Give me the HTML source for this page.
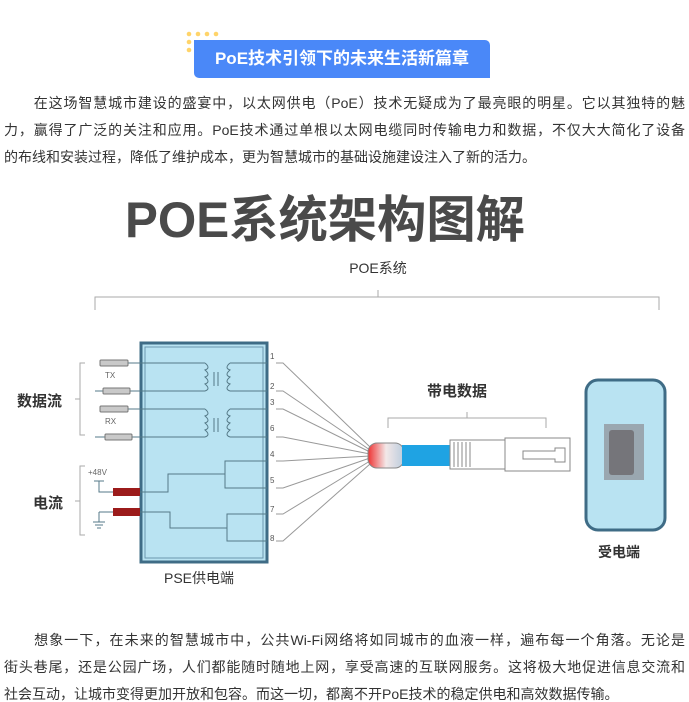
<!DOCTYPE html>
<html><head><meta charset="utf-8"><style>
html,body{margin:0;padding:0;background:#fff;width:689px;height:702px;overflow:hidden;position:relative}
.t{position:absolute;left:4px;width:681px;font:14px "Liberation Sans","Noto Sans CJK SC",sans-serif;color:#333;height:20px;line-height:20px;white-space:nowrap}
.j{text-align:justify;text-align-last:justify}
</style></head><body>
<div style="position:absolute;left:186px;top:31px;width:32px;height:20px">
<svg width="34" height="22"><g fill="#ffd46a"><circle cx="3" cy="3" r="2.3"/><circle cx="12" cy="3" r="2.3"/><circle cx="21" cy="3" r="2.3"/><circle cx="30" cy="3" r="2.3"/><circle cx="3" cy="11" r="2.3"/><circle cx="3" cy="19" r="2.3"/></g></svg></div>
<div style="position:absolute;left:194px;top:40px;width:296px;height:38px;background:#4a88f8;border-radius:0 5px 0 5px;color:#fff;font:bold 17px 'Liberation Sans','Noto Sans CJK SC',sans-serif;line-height:38px;text-align:center">PoE技术引领下的未来生活新篇章</div>

<div class="t j" style="top:93px">　　在这场智慧城市建设的盛宴中，以太网供电（PoE）技术无疑成为了最亮眼的明星。它以其独特的魅</div>
<div class="t j" style="top:120px">力，赢得了广泛的关注和应用。PoE技术通过单根以太网电缆同时传输电力和数据，不仅大大简化了设备</div>
<div class="t" style="top:147px">的布线和安装过程，降低了维护成本，更为智慧城市的基础设施建设注入了新的活力。</div>

<svg style="position:absolute;left:0;top:180px" width="689" height="420" viewBox="0 180 689 420" font-family="Liberation Sans,Noto Sans CJK SC,sans-serif">
<text x="125" y="237" font-size="50" font-weight="bold" fill="#4a4a4a" textLength="400" lengthAdjust="spacingAndGlyphs">POE系统架构图解</text>
<text x="378" y="273" font-size="14" fill="#333" text-anchor="middle">POE系统</text>
<path d="M95 310 V297 H659 V310 M378 297 V290" fill="none" stroke="#aaa" stroke-width="1"/>
<rect x="141" y="343" width="126" height="219" fill="#b9e3f2" stroke="#3f6c86" stroke-width="3"/>
<rect x="145" y="347" width="118" height="211" fill="none" stroke="#6a97ae" stroke-width="1"/>
<g stroke="#557a88" stroke-width="1" fill="none">
<path d="M128 363 H205 M230 363 H267"/>
<path d="M95 391 H103 M130 391 H205 M230 391 H267"/>
<path d="M128 409 H205 M230 409 H267"/>
<path d="M95 437 H105 M132 437 H205 M230 437 H267"/>
<path d="M205 363 q6 5 0 7 q6 5 0 7 q6 5 0 7 q6 5 0 7 V391"/>
<path d="M230 363 q-6 5 0 7 q-6 5 0 7 q-6 5 0 7 q-6 5 0 7 V391"/>
<path d="M205 409 q6 5 0 7 q6 5 0 7 q6 5 0 7 q6 5 0 7 V437"/>
<path d="M230 409 q-6 5 0 7 q-6 5 0 7 q-6 5 0 7 q-6 5 0 7 V437"/>
<path d="M214 372 V386 M218 372 V386 M214 418 V432 M218 418 V432"/>
<path d="M140 492 H168 V474 H225 V461 H267 M225 474 V488 H267"/>
<path d="M140 512 H170 V528 H227 V514 H267 M227 528 V541 H267"/>
<path d="M99 481 V492 H113 M94 481 H104 M99 512 V522 M99 512 H113 M93 522 H105 M95 525 H103 M97 528 H101"/>
</g>
<g fill="#c9c9c9" stroke="#777" stroke-width="1">
<rect x="100" y="360" width="28" height="6" rx="1"/><rect x="103" y="388" width="27" height="6" rx="1"/>
<rect x="100" y="406" width="28" height="6" rx="1"/><rect x="105" y="434" width="27" height="6" rx="1"/>
</g>
<rect x="113" y="488" width="27" height="8" fill="#9b1b1b"/><rect x="113" y="508" width="27" height="8" fill="#9b1b1b"/>
<text x="105" y="378" font-size="8" fill="#666">TX</text><text x="105" y="424" font-size="8" fill="#666">RX</text>
<text x="88" y="475" font-size="8" fill="#666">+48V</text>
<path d="M85 363 H80 V435 H85 M80 399 H75 M85 466 H80 V535 H85 M80 501 H75" fill="none" stroke="#aaa"/>
<text x="17" y="406" font-size="15" font-weight="bold" fill="#333">数据流</text>
<text x="33" y="508" font-size="15" font-weight="bold" fill="#333">电流</text>
<text x="164" y="583" font-size="14" fill="#333">PSE供电端</text>
<g font-size="8" fill="#555"><text x="270" y="359">1</text><text x="270" y="389">2</text><text x="270" y="405">3</text><text x="270" y="431">6</text><text x="270" y="457">4</text><text x="270" y="483">5</text><text x="270" y="512">7</text><text x="270" y="541">8</text></g>
<g stroke="#999" stroke-width="1" fill="none">
<path d="M276 363 H283 L370 447"/><path d="M276 391 H283 L370 450"/><path d="M276 409 H283 L370 452"/><path d="M276 437 H283 L370 454"/>
<path d="M276 461 H283 L370 456"/><path d="M276 488 H283 L370 458"/><path d="M276 514 H283 L370 461"/><path d="M276 541 H283 L370 464"/>
</g>
<defs><linearGradient id="g" x1="0" x2="1"><stop offset="0" stop-color="#e33"/><stop offset="0.5" stop-color="#f3e8e8"/><stop offset="1" stop-color="#bcd"/></linearGradient></defs>
<rect x="368" y="443" width="36" height="25" rx="9" fill="url(#g)" stroke="#888"/>
<rect x="402" y="445" width="50" height="21" fill="#1fa3e3"/>
<g fill="#fff" stroke="#888"><rect x="450" y="440" width="55" height="29"/><rect x="505" y="438" width="65" height="33"/>
<path d="M523 451 H555 V448 H565 V462 H555 V459 H523 Z"/></g>
<path d="M454 442 V467 M458 442 V467 M462 442 V467 M466 442 V467 M470 442 V467" stroke="#888"/>
<path d="M388 428 V418 H546 V428 M467 418 V412" fill="none" stroke="#aaa"/>
<text x="427" y="396" font-size="15" font-weight="bold" fill="#333">带电数据</text>
<rect x="586" y="380" width="79" height="150" rx="12" fill="#b9e3f2" stroke="#3f6c86" stroke-width="3"/>
<rect x="604" y="424" width="40" height="56" fill="#9aa7b0"/>
<rect x="609" y="430" width="25" height="45" rx="3" fill="#75757a"/>
<text x="598" y="557" font-size="14" font-weight="bold" fill="#333">受电端</text>
</svg>

<div class="t j" style="top:630px">　　想象一下，在未来的智慧城市中，公共Wi-Fi网络将如同城市的血液一样，遍布每一个角落。无论是</div>
<div class="t j" style="top:657px">街头巷尾，还是公园广场，人们都能随时随地上网，享受高速的互联网服务。这将极大地促进信息交流和</div>
<div class="t" style="top:684px">社会互动，让城市变得更加开放和包容。而这一切，都离不开PoE技术的稳定供电和高效数据传输。</div>
</body></html>
